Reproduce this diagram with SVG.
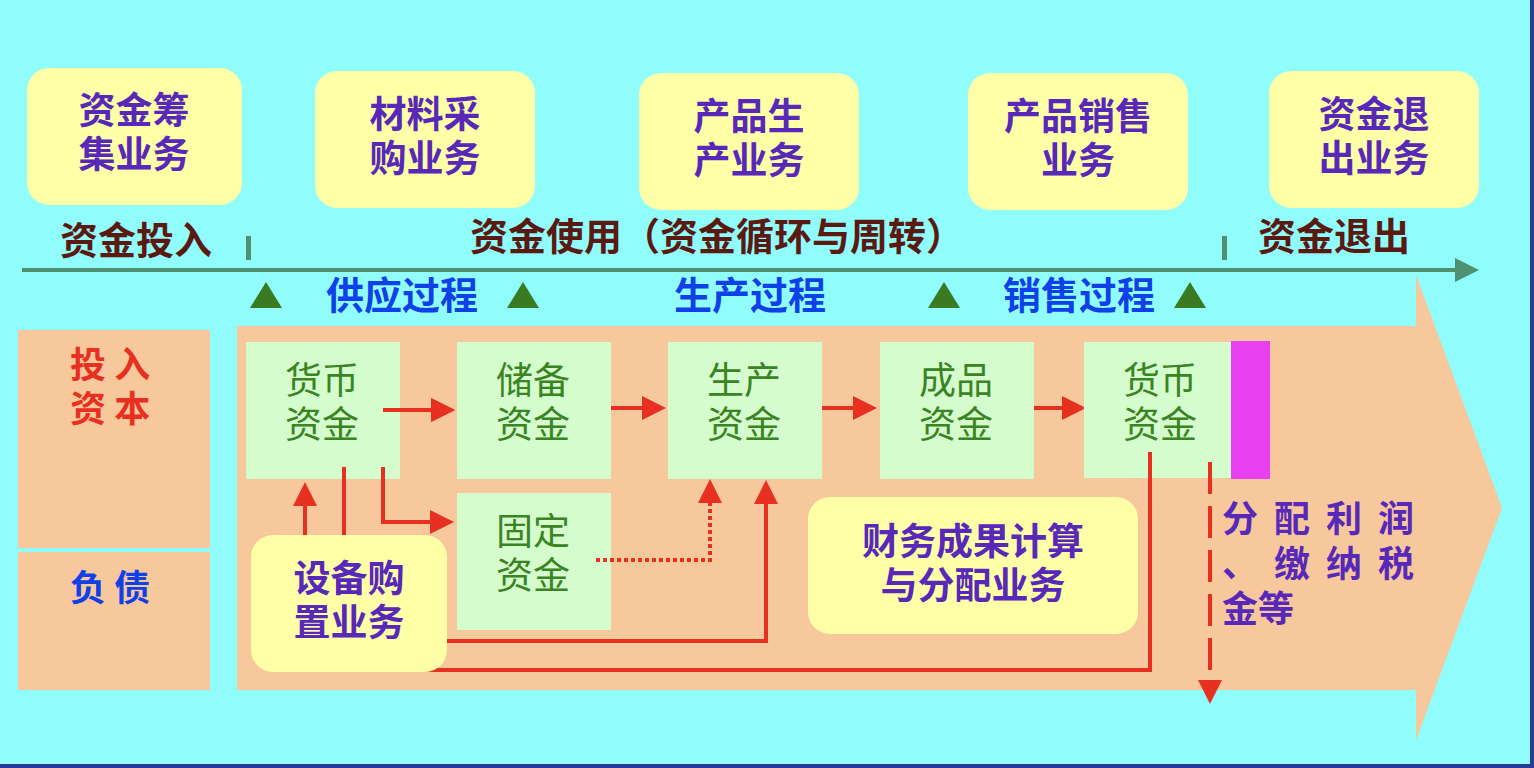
<svg xmlns="http://www.w3.org/2000/svg" width="1534" height="768" viewBox="0 0 1534 768">
<style>
text{font-family:"Noto Sans CJK SC","Liberation Sans",sans-serif;font-weight:bold}
.yb{fill:#FFFFA8}
.yt{fill:#5828B8;font-size:37px;text-anchor:middle}
.gb{fill:#D4FCCC}
.gt{fill:#3A8424;font-size:37px;text-anchor:middle;font-weight:normal}
.br{fill:#5A1A12;font-size:38px}
.bl{fill:#1040E8;font-size:38px}
.tri{fill:#3A7A20}
.red{stroke:#E83020;stroke-width:4;fill:none}
</style>
<defs>
<marker id="ah" markerWidth="6" markerHeight="6" refX="5" refY="3" orient="auto" markerUnits="strokeWidth"><path d="M0,0L6,3L0,6z" fill="#E83020"/></marker>
<marker id="ga" markerWidth="6" markerHeight="6" refX="5" refY="3" orient="auto" markerUnits="strokeWidth"><path d="M0,0L6,3L0,6z" fill="#4E9070"/></marker>
</defs>
<rect width="1534" height="768" fill="#90FCFC"/>
<rect x="0" y="764" width="1534" height="4" fill="#2A3A9A"/>
<rect x="1530" y="0" width="4" height="768" fill="#2A3A9A"/>
<g id="topboxes">
<g id="b1"><rect class="yb" x="27" y="68" width="215" height="137" rx="22"/><text class="yt" x="134" y="124">资金筹</text><text class="yt" x="134" y="168">集业务</text></g>
<g id="b2"><rect class="yb" x="315" y="71" width="220" height="137" rx="22"/><text class="yt" x="425" y="128">材料采</text><text class="yt" x="425" y="172">购业务</text></g>
<g id="b3"><rect class="yb" x="639" y="73" width="220" height="137" rx="22"/><text class="yt" x="749" y="130">产品生</text><text class="yt" x="749" y="174">产业务</text></g>
<g id="b4"><rect class="yb" x="968" y="73" width="220" height="137" rx="22"/><text class="yt" x="1078" y="130">产品销售</text><text class="yt" x="1078" y="174">业务</text></g>
<g id="b5"><rect class="yb" x="1269" y="71" width="210" height="137" rx="22"/><text class="yt" x="1374" y="128">资金退</text><text class="yt" x="1374" y="172">出业务</text></g>
</g>
<g id="timeline">
<line x1="22" y1="270" x2="1475" y2="270" stroke="#4E9070" stroke-width="4" marker-end="url(#ga)"/>
<rect x="246" y="236" width="5" height="24" fill="#4E9070"/>
<rect x="1222" y="236" width="5" height="24" fill="#4E9070"/>
<text class="br" x="60" y="254">资金投入</text>
<text class="br" x="470" y="250">资金使用（资金循环与周转）</text>
<text class="br" x="1258" y="250">资金退出</text>
<polygon class="tri" points="266,282 250,308 282,308"/>
<polygon class="tri" points="523,282 507,308 539,308"/>
<polygon class="tri" points="944,282 928,308 960,308"/>
<polygon class="tri" points="1190,282 1174,308 1206,308"/>
<text class="bl" x="326" y="309">供应过程</text>
<text class="bl" x="674" y="309">生产过程</text>
<text class="bl" x="1003" y="309">销售过程</text>
</g>
<polygon points="237,326 1416,326 1416,275 1502,508 1416,740 1416,690 237,690" fill="#F6C89C"/>
<g id="left">
<rect x="18" y="330" width="192" height="218" fill="#F6C89C"/>
<rect x="18" y="552" width="192" height="138" fill="#F6C89C"/>
<text x="70" y="378" fill="#E83020" font-size="36">投 入</text>
<text x="70" y="422" fill="#E83020" font-size="36">资 本</text>
<text x="70" y="601" fill="#1040E8" font-size="36">负 债</text>
</g>
<g id="connectors">
<line class="red" x1="305" y1="670" x2="305" y2="486" marker-end="url(#ah)"/>
<line class="red" x1="344" y1="467" x2="344" y2="540"/>
<polyline class="red" points="383,467 383,522 450,522" marker-end="url(#ah)"/>
<line class="red" x1="383" y1="410" x2="451" y2="410" marker-end="url(#ah)"/>
<line class="red" x1="593" y1="408" x2="662" y2="408" marker-end="url(#ah)"/>
<line class="red" x1="804" y1="408" x2="873" y2="408" marker-end="url(#ah)"/>
<line class="red" x1="1012" y1="408" x2="1082" y2="408" marker-end="url(#ah)"/>
<polyline class="red" points="596,560 710,560 710,483" stroke-dasharray="4,3" marker-end="url(#ah)"/>
<polyline class="red" points="440,641 766,641 766,484" marker-end="url(#ah)"/>
<polyline class="red" points="305,670 1150,670 1150,452"/>
</g>
<g id="n1"><rect class="gb" x="246" y="342" width="154" height="137"/><text class="gt" x="322" y="394">货币</text><text class="gt" x="322" y="438">资金</text></g>
<g id="n2"><rect class="gb" x="457" y="342" width="154" height="137"/><text class="gt" x="533" y="394">储备</text><text class="gt" x="533" y="438">资金</text></g>
<g id="n3"><rect class="gb" x="668" y="342" width="154" height="137"/><text class="gt" x="744" y="394">生产</text><text class="gt" x="744" y="438">资金</text></g>
<g id="n4"><rect class="gb" x="880" y="342" width="154" height="137"/><text class="gt" x="956" y="394">成品</text><text class="gt" x="956" y="438">资金</text></g>
<g id="n5"><rect class="gb" x="1084" y="342" width="148" height="136"/><text class="gt" x="1160" y="394">货币</text><text class="gt" x="1160" y="438">资金</text></g>
<g id="n6"><rect class="gb" x="457" y="493" width="154" height="137"/><text class="gt" x="533" y="545">固定</text><text class="gt" x="533" y="589">资金</text></g>
<g id="overlaps">
<line class="red" x1="383" y1="410" x2="451" y2="410" marker-end="url(#ah)"/>
<line class="red" x1="344" y1="467" x2="344" y2="540"/>
<line class="red" x1="383" y1="467" x2="383" y2="522"/>
<line class="red" x1="1150" y1="452" x2="1150" y2="478"/>
<polyline class="red" points="596,560 710,560" stroke-dasharray="4,3"/>
<line class="red" x1="1210" y1="462" x2="1210" y2="700" stroke-dasharray="32,12" marker-end="url(#ah)"/>
</g>
<rect x="1231" y="341" width="39" height="138" fill="#E840F0"/>
<g id="n7"><rect class="yb" x="251" y="535" width="196" height="137" rx="22"/><text class="yt" x="349" y="592">设备购</text><text class="yt" x="349" y="636">置业务</text></g>
<g id="n8"><rect class="yb" x="808" y="497" width="330" height="137" rx="22"/><text class="yt" x="973" y="555">财务成果计算</text><text class="yt" x="973" y="599">与分配业务</text></g>
<g id="dist" fill="#5828B8" font-size="36">
<text x="1222" y="532" letter-spacing="16">分配利润</text>
<text x="1222" y="577" letter-spacing="16">、缴纳税</text>
<text x="1222" y="622">金等</text>
</g>
</svg>
